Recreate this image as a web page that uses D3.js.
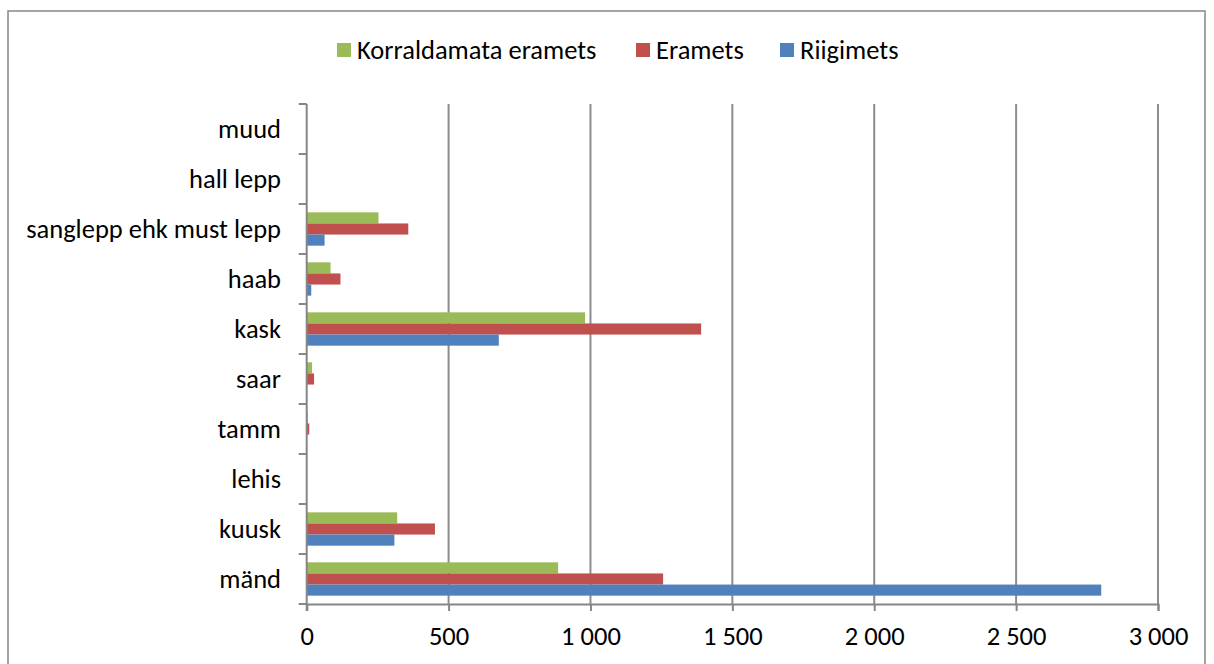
<!DOCTYPE html>
<html>
<head>
<meta charset="utf-8">
<script src="https://cdn.jsdelivr.net/npm/d3@7"></script>
<style>
  html, body { margin: 0; padding: 0; background: #fff; }
  svg { display: block; }
  text { font-family: Carlito, Lato, "Liberation Sans", sans-serif; fill: #000; font-weight: normal; }
</style>
</head>
<body>
<svg id="chart" width="1214" height="664"></svg>
<script>
// Tree species, listed top to bottom
const categories = ["muud", "hall lepp", "sanglepp ehk must lepp", "haab", "kask",
                    "saar", "tamm", "lehis", "kuusk", "mänd"];
const seriesNames = ["Korraldamata eramets", "Eramets", "Riigimets"];
const korraldamata = [0, 0, 253, 84, 981, 19, 4, 0, 319, 886];
const eramets      = [0, 0, 358, 119, 1390, 26, 9, 0, 452, 1256];
const riigimets    = [0, 0, 63, 16, 677, 0, 0, 0, 309, 2800];
const xTicks = [0, 500, 1000, 1500, 2000, 2500, 3000];
const colors = ["#9BBB59", "#C0504D", "#4F81BD"];

const seriesValues = [korraldamata, eramets, riigimets];
const FONT = 26.5;

const svg = d3.select("#chart");

// outer chart frame
svg.append("rect")
  .attr("x", 8).attr("y", 11).attr("width", 1197).attr("height", 700)
  .attr("fill", "none").attr("stroke", "#868686").attr("stroke-width", 1.5);

const plot = { left: 306.7, right: 1158, top: 104, bottom: 604 };

const x = d3.scaleLinear().domain([0, 3000]).range([plot.left, plot.right]);
const y = d3.scaleBand().domain(categories).range([plot.top, plot.bottom])
  .paddingInner(1 / 3).paddingOuter(1 / 6);
const ySub = d3.scaleBand().domain(d3.range(seriesNames.length)).range([0, y.bandwidth()]);

// vertical gridlines
svg.append("g").selectAll("line").data(xTicks.slice(1)).join("line")
  .attr("x1", d => x(d)).attr("x2", d => x(d))
  .attr("y1", plot.top).attr("y2", plot.bottom)
  .attr("stroke", "#8c8c8c").attr("stroke-width", 2);

// bars
const groups = svg.append("g").selectAll("g").data(categories).join("g")
  .attr("transform", c => `translate(0,${y(c)})`);
groups.selectAll("rect")
  .data((c, i) => seriesValues.map((vals, s) => ({ s, v: vals[i] })))
  .join("rect")
  .attr("x", x(0))
  .attr("y", d => ySub(d.s))
  .attr("width", d => Math.max(0, x(d.v) - x(0)))
  .attr("height", ySub.bandwidth())
  .attr("fill", d => colors[d.s]);

// x axis
const xAxis = svg.append("g").attr("transform", `translate(0,${plot.bottom})`)
  .call(d3.axisBottom(x).tickValues(xTicks).tickSize(7).tickPadding(15)
    .tickFormat(d => d3.format(",")(d).replace(/,/g, " ")));
xAxis.select(".domain").attr("stroke", "#868686").attr("stroke-width", 2);
xAxis.selectAll(".tick line").attr("stroke", "#868686").attr("stroke-width", 2);
xAxis.selectAll("text").attr("font-size", FONT).attr("font-family", null);

// y axis: line, tick marks at the category boundaries, labels
const step = y.step();
const bounds = d3.range(categories.length + 1).map(i => plot.top + i * step);
svg.append("line")
  .attr("x1", plot.left).attr("x2", plot.left)
  .attr("y1", plot.top).attr("y2", plot.bottom + 7)
  .attr("stroke", "#868686").attr("stroke-width", 2);
svg.append("g").selectAll("line").data(bounds).join("line")
  .attr("x1", plot.left - 8).attr("x2", plot.left)
  .attr("y1", d => d).attr("y2", d => d)
  .attr("stroke", "#868686").attr("stroke-width", 2);
svg.append("g").selectAll("text").data(categories).join("text")
  .attr("x", 281)
  .attr("y", c => y(c) + y.bandwidth() / 2)
  .attr("dy", "0.35em")
  .attr("text-anchor", "end")
  .attr("font-size", FONT)
  .text(c => c);

// legend
const legendItems = [
  { name: seriesNames[0], x: 337 },
  { name: seriesNames[1], x: 636 },
  { name: seriesNames[2], x: 780 }
];
const legend = svg.append("g").selectAll("g").data(legendItems).join("g")
  .attr("transform", d => `translate(${d.x},43)`);
legend.append("rect").attr("width", 14).attr("height", 14)
  .attr("fill", (d, i) => colors[i]);
legend.append("text").attr("x", 20).attr("y", 7).attr("dy", "0.35em")
  .attr("font-size", FONT).text(d => d.name);
</script>
</body>
</html>
